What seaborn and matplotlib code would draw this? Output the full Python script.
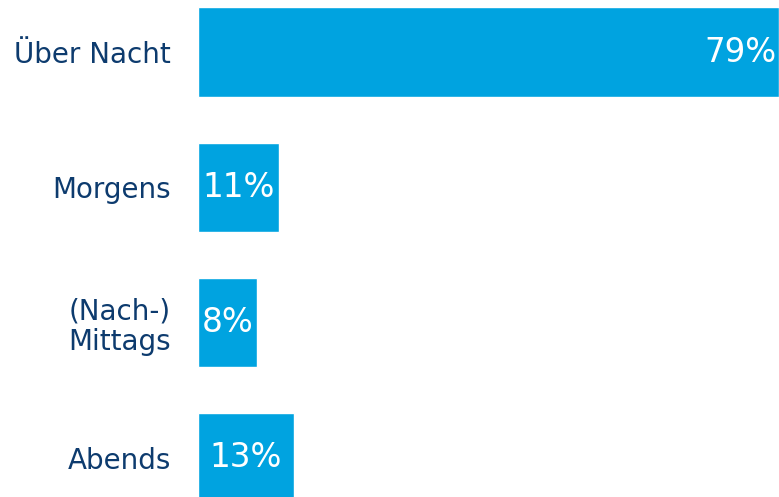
import matplotlib
matplotlib.use("Agg")
import matplotlib.pyplot as plt
import seaborn as sns
import pandas as pd

categories = ["Über Nacht", "Morgens", "(Nach-)\nMittags", "Abends"]
shares = [79, 11, 8, 13]
value_labels = ["79%", "11%", "8%", "13%"]

BAR = "#00A3E0"
NAVY = "#0D3B6E"

sns.set_theme(style="white")
plt.rcParams["font.family"] = ["DejaVu Sans"]

df = pd.DataFrame({"Zeit": categories, "Anteil": shares})

fig = plt.figure(figsize=(7.79, 4.97), dpi=100)
ax = fig.add_axes([198 / 779, 0, 581 / 779, 1])

sns.barplot(data=df, y="Zeit", x="Anteil", orient="h", color=BAR,
            saturation=1, width=0.66, ax=ax)

ax.set_xlim(0, max(shares))
ax.set_ylim(3.29, -0.385)
ax.set_xlabel("")
ax.set_ylabel("")
ax.set_xticks([])
sns.despine(ax=ax, left=True, bottom=True)
ax.tick_params(axis="y", length=0, pad=19.5, labelsize=20, labelcolor=NAVY)
for lab in ax.get_yticklabels():
    lab.set_multialignment("center")
    lab.set_linespacing(1.1)

for i, (v, txt) in enumerate(zip(shares, value_labels)):
    if v > 40:
        ax.text(v - 0.4, i, txt, ha="right", va="center", color="white", fontsize=23.5)
    else:
        ax.text(v / 2, i, txt, ha="center", va="center", color="white", fontsize=23.5)

fig.savefig("out.png", dpi=100)
